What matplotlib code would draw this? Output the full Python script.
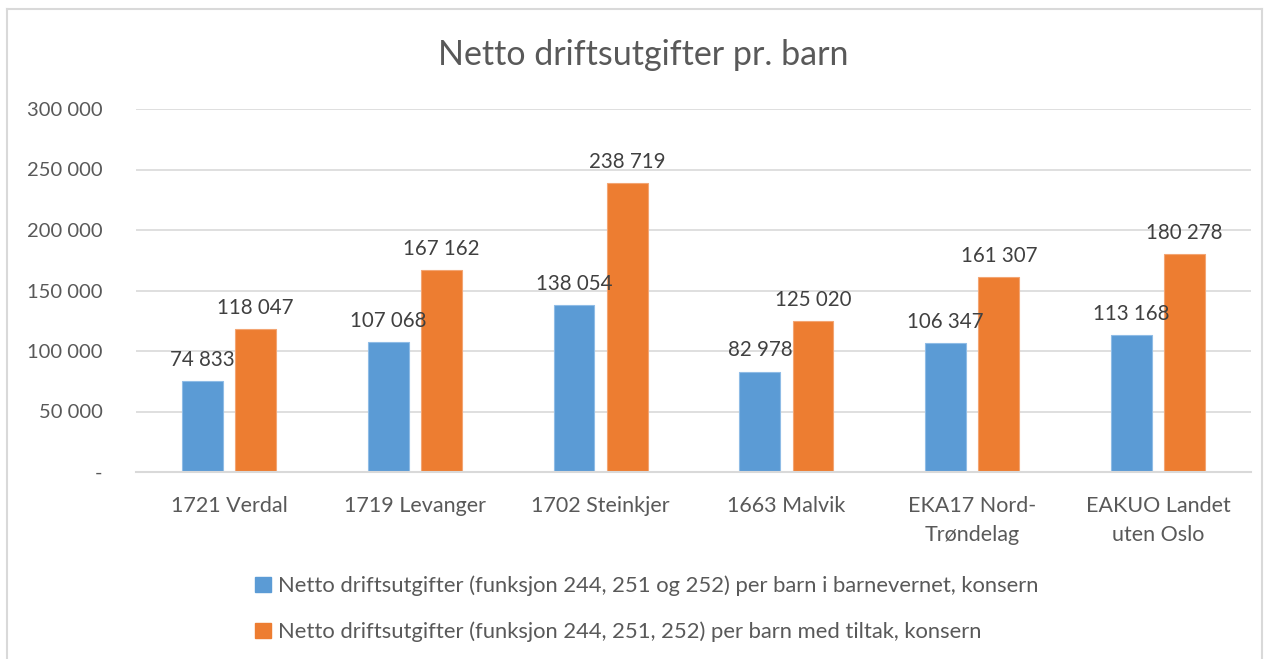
import matplotlib
matplotlib.use("Agg")
import matplotlib.pyplot as plt
import numpy as np
from matplotlib.patches import Patch
from matplotlib.lines import Line2D

categories = ["1721 Verdal", "1719 Levanger", "1702 Steinkjer", "1663 Malvik",
              "EKA17 Nord-\nTrøndelag", "EAKUO Landet\nuten Oslo"]
series1_name = "Netto driftsutgifter (funksjon 244, 251 og 252) per barn i barnevernet, konsern"
series2_name = "Netto driftsutgifter (funksjon 244, 251, 252) per barn med tiltak, konsern"
series1 = [74833, 107068, 138054, 82978, 106347, 113168]
series2 = [118047, 167162, 238719, 125020, 161307, 180278]
yticks = [0, 50000, 100000, 150000, 200000, 250000, 300000]
ytick_labels = ["-", "50 000", "100 000", "150 000", "200 000", "250 000", "300 000"]
title = "Netto driftsutgifter pr. barn"

plt.rcParams['font.family'] = ['Lato', 'DejaVu Sans']
TXT = "#595959"
GRID = "#D9D9D9"
C1 = "#5B9BD5"
C2 = "#ED7D31"

W, H = 1268, 659
fig = plt.figure(figsize=(W / 100, H / 100), dpi=100)
ax = fig.add_axes([136 / W, 1 - 472 / H, (1251 - 136) / W, (472 - 109) / H])

x = np.arange(len(categories))
bw = 0.22
off = 0.143
b1 = ax.bar(x - off, series1, bw, color=C1, edgecolor="#8FBCE6", linewidth=0.8, zorder=2)
b2 = ax.bar(x + off, series2, bw, color=C2, edgecolor="#F3A573", linewidth=0.8, zorder=2)

def fmt(v):
    return f"{v:,}".replace(",", " ")

for bars, vals in ((b1, series1), (b2, series2)):
    for r, v in zip(bars, vals):
        ax.annotate(fmt(v), (r.get_x() + r.get_width() / 2, v), xytext=(0, 8),
                    textcoords="offset points", ha="center", va="bottom",
                    fontsize=14.8, color="#404040", zorder=5)

ax.set_xlim(-0.5, len(categories) - 0.5)
ax.set_ylim(0, 300000)
ax.set_yticks(yticks)
ax.set_yticklabels(ytick_labels)
ax.set_xticks(x)
ax.set_xticklabels(categories, linespacing=1.6)
ax.tick_params(axis="y", length=0, pad=24, labelsize=14.5, labelcolor=TXT)
ax.tick_params(axis="x", length=0, pad=17, labelsize=15.5, labelcolor=TXT)
ax.grid(axis="y", color=GRID, linewidth=1.2, zorder=0)
ax.set_axisbelow(True)
for s in ["top", "right", "left"]:
    ax.spines[s].set_visible(False)
ax.spines["bottom"].set_color(GRID)
ax.spines["bottom"].set_linewidth(1.5)

fig.text(643 / W, 1 - 55 / H, title, ha="center", va="center", fontsize=24.5, color=TXT)

handles = [Patch(facecolor=C1, edgecolor=C1), Patch(facecolor=C2, edgecolor=C2)]
leg = fig.legend(handles, [series1_name, series2_name], loc="center",
                 bbox_to_anchor=(647 / W, 1 - 609 / H), frameon=False,
                 fontsize=15.8, labelcolor=TXT, handlelength=0.7, handleheight=0.7,
                 handletextpad=0.35, labelspacing=1.15, borderpad=0)

# outer chart border
fig.add_artist(Line2D([7 / W, 7 / W], [0, 1 - 9 / H], color="#D9D9D9", lw=1.5, transform=fig.transFigure))
fig.add_artist(Line2D([7 / W, 1262 / W], [1 - 9 / H, 1 - 9 / H], color="#D9D9D9", lw=1.5, transform=fig.transFigure))
fig.add_artist(Line2D([1262 / W, 1262 / W], [0, 1 - 9 / H], color="#D9D9D9", lw=1.5, transform=fig.transFigure))

fig.savefig("out.png", dpi=100)
